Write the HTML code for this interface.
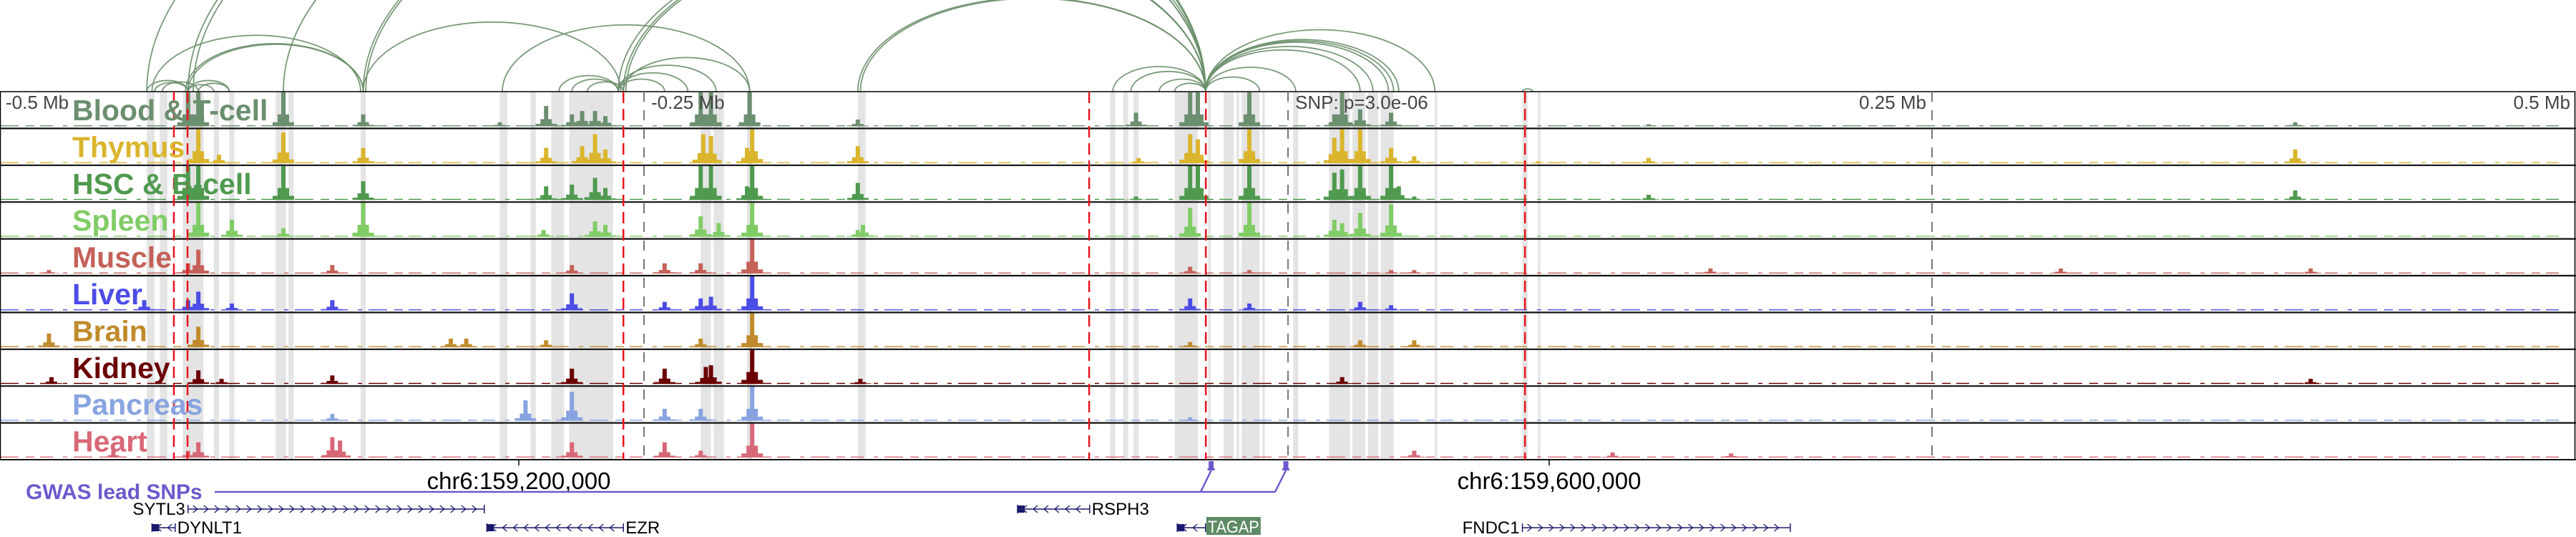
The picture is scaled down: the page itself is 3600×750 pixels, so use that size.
<!DOCTYPE html>
<html><head><meta charset="utf-8">
<style>
html,body{margin:0;padding:0;background:#fff;}
svg{display:block;font-family:"Liberation Sans","DejaVu Sans",sans-serif;}
</style></head>
<body>
<svg id="chart" width="3600" height="750" viewBox="0 0 3600 750" xmlns="http://www.w3.org/2000/svg">
  <g id="arcs"></g>
  <g id="bands"></g>
  <g id="signals"></g>
  <g id="frames"></g>
  <g id="vlines"></g>
  <g id="labels"></g>
  <g id="bottom"></g>
</svg>
<script>
// ---- data (positions in kb relative to lead SNP) ----
const tissues = ["Blood & T-cell","Thymus","HSC & B-cell","Spleen","Muscle","Liver","Brain","Kidney","Pancreas","Heart"];
const tissueColors = ["#6b8f6f","#dab52c","#4f9a4f","#80cc66","#c46159","#4c4ce6","#c08b2c","#6b0000","#88a4e0","#d86878"];
const axisTickKb = [-500,-250,0,250,500];
const axisTickLabels = ["-0.5 Mb","-0.25 Mb","SNP: p=3.0e-06","0.25 Mb","0.5 Mb"];
const redLinesKb = [-432.5,-427.2,-258.0,-77.2,-31.9,92.0];
const bandsKb = [[-443,-440],[-438,-435],[-429,-421],[-417,-415],[-411,-409],[-393,-389],[-388,-386],[-360,-358],[-306,-303],[-294,-292],[-286,-281],[-279,-275],[-275,-262],[-228,-224],[-223,-219],[-210,-208],[-167,-164],[-69,-67],[-64,-62],[-60,-58],[-44,-35],[-31,-30],[-25,-21],[-20,-19],[-18,-11],[-10,-9],[2,4],[16,19],[19,24],[25,30],[31,35],[36,41],[57,58],[91,93],[97,98]];
// peaks: [kb, relative height 0..1]
const peaksBlood = [[-427,1],[-423,1],[-390,1],[-359,0.35],[-306,0.12],[-288,0.6],[-278,0.35],[-274,0.45],[-269,0.45],[-265,0.3],[-228,1],[-224,1],[-209,1],[-167,0.2],[-59,0.4],[-38,1],[-35,1],[-15,1],[18,0.35],[21,1],[28,0.5],[40,0.4],[140,0.06],[391,0.12]];
const peaksThymus = [[-423,1],[-415,0.25],[-390,0.9],[-359,0.45],[-288,0.45],[-274,0.5],[-269,0.85],[-265,0.4],[-227,0.85],[-224,0.8],[-210,0.45],[-208,1],[-167,0.5],[-58,0.15],[-38,0.85],[-35,0.7],[-15,1],[18,0.75],[21,1],[28,1],[40,0.45],[49,0.2],[97,0.05],[140,0.15],[391,0.4]];
const peaksHSC = [[-427,1],[-423,1],[-390,1],[-359,0.55],[-288,0.4],[-278,0.45],[-269,0.65],[-265,0.35],[-228,1],[-224,1],[-210,0.4],[-208,1],[-167,0.5],[-59,0.1],[-38,1],[-35,1],[-15,1],[18,0.8],[21,0.9],[28,1],[40,1],[43,0.4],[49,0.1],[140,0.15],[391,0.28]];
const peaksSpleen = [[-423,1],[-410,0.5],[-390,0.25],[-359,1],[-289,0.2],[-269,0.45],[-265,0.35],[-228,0.6],[-221,0.4],[-208,1],[-167,0.2],[-165,0.35],[-38,0.85],[-15,1],[18,0.5],[21,0.4],[28,0.7],[40,0.95]];
const peaksMuscle = [[-481,0.1],[-427,0.3],[-423,0.7],[-371,0.25],[-278,0.25],[-242,0.3],[-228,0.3],[-208,1],[-38,0.2],[-15,0.1],[40,0.1],[49,0.1],[164,0.15],[300,0.15],[397,0.15]];
const peaksLiver = [[-444,0.3],[-427,0.3],[-423,0.55],[-410,0.2],[-371,0.3],[-278,0.5],[-242,0.25],[-228,0.35],[-224,0.4],[-208,1],[-38,0.35],[-15,0.2],[28,0.25],[40,0.15]];
const peaksBrain = [[-481,0.4],[-423,0.6],[-325,0.25],[-319,0.25],[-288,0.2],[-228,0.25],[-208,1],[-38,0.15],[28,0.2],[49,0.2]];
const peaksKidney = [[-480,0.2],[-423,0.4],[-414,0.15],[-371,0.25],[-278,0.45],[-242,0.45],[-226,0.5],[-224,0.55],[-208,1],[-166,0.15],[21,0.2],[397,0.15]];
const peaksPancreas = [[-296,0.6],[-278,0.85],[-371,0.2],[-242,0.35],[-228,0.35],[-208,1],[-38,0.1]];
const peaksHeart = [[-456,0.2],[-427,0.2],[-423,0.45],[-371,0.6],[-368,0.5],[-278,0.45],[-242,0.45],[-228,0.2],[-208,1],[49,0.2],[126,0.15],[172,0.12]];
const allPeaks = [peaksBlood,peaksThymus,peaksHSC,peaksSpleen,peaksMuscle,peaksLiver,peaksBrain,peaksKidney,peaksPancreas,peaksHeart];
// interaction arcs: [startKb, endKb]
const arcsKb = [[-443,-427],[-440,-427],[-437,-423],[-427,-417],[-427,-411],[-423,-411],[-441,-360],[-427,-359],[-428,-359],[-359,-259],[-305,-209],[-258,-209],[-283,-260],[-278,-260],[-272,-258],[-260,-242],[-260,-233],[-260,-222],[-443,-32],[-427,-32],[-425,-32],[-390,-32],[-359,-32],[-358,-32],[-260,-32],[-258,-32],[-257,-32],[-167,-32],[-166,-32],[-68,-32],[-61,-32],[-50,-32],[-44,-32],[-32,-11],[-32,3],[-32,28],[-32,33],[-32,39],[-32,41],[-32,43],[-32,57],[91,95]];
// genes
const geneNames = ["SYTL3","DYNLT1","EZR","RSPH3","TAGAP","FNDC1"];
const geneStartKb = [-427,-441,-311,-105,-43,91];
const geneEndKb = [-312,-432,-258,-77,-32,195];
const geneStrand = [1,-1,-1,-1,-1,1];
const geneRow = [0,1,1,0,1,1];
const snpKb = [-29,0];
const coordLabels = ["chr6:159,200,000","chr6:159,600,000"];
const coordKb = [-298.6,101.4];

// ---- scales ----
const NS="http://www.w3.org/2000/svg";
const X = kb => 1800 + kb*3.6;
const TOP=128, ROWH=51.4, NROW=tissues.length, BOT=TOP+ROWH*NROW;
function mk(tag, attrs, parent){const e=document.createElementNS(NS,tag);for(const k in attrs)e.setAttribute(k,attrs[k]);parent.appendChild(e);return e;}
const G = id=>document.getElementById(id);

arcsKb.forEach(a=>{
  const x1=X(a[0]), x2=X(a[1]); const span=x2-x1; const h=span*0.27;
  const p=mk('path',{d:`M${x1},${TOP} A${span/2},${h} 0 0 1 ${x2},${TOP}`,fill:'none',stroke:'#6b8f6b','stroke-width':1.8,opacity:0.9},G('arcs'));
  
  
});
bandsKb.forEach(b=>{
  const r=mk('rect',{x:X(b[0]),y:TOP,width:Math.max(2,X(b[1])-X(b[0])),height:BOT-TOP,fill:'#e4e4e4'},G('bands'));
  
  
});
allPeaks.forEach((pk,i)=>{
  const base=TOP+ROWH*(i+1)-3, col=tissueColors[i];
  const g=mk('g',{},G('signals'));
  
  
  mk('line',{x1:0,x2:3590,y1:base-0.7,y2:base-0.7,stroke:col,'stroke-width':1.4,'stroke-dasharray':'26,10,12,8,18,14,6,9'},g);
  pk.forEach(p=>{
    const hh=p[1]*(ROWH-4), cx=X(p[0]);
    const b=mk('rect',{x:cx-3,y:base-hh,width:6,height:hh,fill:col},g);
    
    
    mk('rect',{x:cx-8,y:base-hh*0.35,width:16,height:hh*0.35,fill:col},g);
    mk('rect',{x:cx-15,y:base-hh*0.12,width:30,height:hh*0.12,fill:col},g);
  });
});
const fr=G('frames');
mk('rect',{x:0.5,y:TOP,width:3598,height:BOT-TOP,fill:'none',stroke:'#000','stroke-width':1.5},fr);
for(let i=1;i<NROW;i++){
  const l=mk('line',{x1:0,x2:3600,y1:TOP+ROWH*i,y2:TOP+ROWH*i,stroke:'#111','stroke-width':2.2},fr);
  
  
}
mk('line',{x1:0,x2:3600,y1:BOT,y2:BOT,stroke:'#111','stroke-width':2},fr);
axisTickKb.forEach((k,i)=>{
  if(i===0||i===4)return;
  const l=mk('line',{x1:X(k),x2:X(k),y1:TOP,y2:BOT,stroke:'#777','stroke-width':2,'stroke-dasharray':'14,12'},G('vlines'));
  
  
});
redLinesKb.forEach(k=>{
  const l=mk('line',{x1:X(k),x2:X(k),y1:TOP,y2:BOT,stroke:'#e8141c','stroke-width':2.5,'stroke-dasharray':'16,8'},G('vlines'));
  
  
});
axisTickKb.forEach((k,i)=>{
  let x=X(k), anchor='start';
  if(i===0)x=8; else if(i===1||i===2)x=X(k)+10; else {x=X(k)-8;anchor='end';}
  const t=mk('text',{x:x,y:TOP+24,'font-size':26,fill:'#444','text-anchor':anchor},G('labels'));
  t.textContent=axisTickLabels[i];
  
  
});
tissues.forEach((n,i)=>{
  const t=mk('text',{x:101,y:TOP+ROWH*i+40,'font-size':41,'font-weight':'bold',fill:tissueColors[i]},G('labels'));
  t.textContent=n;
  
  
});
const bt=G('bottom');
coordKb.forEach((k,i)=>{
  mk('line',{x1:X(k),x2:X(k),y1:BOT,y2:BOT+8,stroke:'#000','stroke-width':1.5},bt);
  const t=mk('text',{x:X(k),y:683,'font-size':33,fill:'#000','text-anchor':'middle'},bt);
  t.textContent=coordLabels[i];
  
  
});
const gw=mk('text',{x:36,y:697,'font-size':30,'font-weight':'bold',fill:'#6a5acd'},bt);
gw.textContent='GWAS lead SNPs';


const lineEndX=[1678,1782];
mk('line',{x1:300,x2:lineEndX[1],y1:687,y2:687,stroke:'#6a5acd','stroke-width':2.5},bt);
snpKb.forEach((k,i)=>{
  const x=X(k)-3;
  mk('line',{x1:lineEndX[i],y1:687,x2:x,y2:657,stroke:'#6a5acd','stroke-width':2.5},bt);
  const r=mk('rect',{x:x-3.5,y:644,width:7,height:11,fill:'#6a5acd'},bt);
  
  
  mk('rect',{x:x-5,y:654,width:10,height:3,fill:'#6a5acd'},bt);
});
geneNames.forEach((n,i)=>{
  const y=geneRow[i]===0?711:737;
  const x1=X(geneStartKb[i]), x2=X(geneEndKb[i]);
  const g=mk('g',{},bt);
  
  
  mk('line',{x1:x1,x2:x2,y1:y,y2:y,stroke:'#1a1a6e','stroke-width':1.5},g);
  mk('line',{x1:x1,x2:x1,y1:y-6,y2:y+6,stroke:'#1a1a6e','stroke-width':1.5},g);
  mk('line',{x1:x2,x2:x2,y1:y-6,y2:y+6,stroke:'#1a1a6e','stroke-width':1.5},g);
  for(let ax=x1+10; ax<x2-6; ax+=15){
    const d=geneStrand[i]>0?`M${ax-3},${y-5} L${ax+3},${y} L${ax-3},${y+5}`:`M${ax+3},${y-5} L${ax-3},${y} L${ax+3},${y+5}`;
    mk('path',{d:d,fill:'none',stroke:'#1a1a6e','stroke-width':1.3},g);
  }
  if(geneStrand[i]<0 && (x2-x1)>30) mk('rect',{x:x1,y:y-5,width:10,height:10,fill:'#1a1a6e'},g);
  let t;
  if(n==='TAGAP'){
    mk('rect',{x:x2+1,y:722,width:76,height:25,fill:'#5e8a64'},g);
    t=mk('text',{x:x2+3,y:744,'font-size':24,fill:'#fff',textLength:72,lengthAdjust:'spacingAndGlyphs'},g);
  } else if(geneStrand[i]>0){
    t=mk('text',{x:x1-4,y:y+8,'font-size':24,fill:'#000','text-anchor':'end'},g);
  } else {
    t=mk('text',{x:x2+3,y:y+8,'font-size':24,fill:'#000'},g);
  }
  t.textContent=n;
  
  
});
</script>
</body></html>
